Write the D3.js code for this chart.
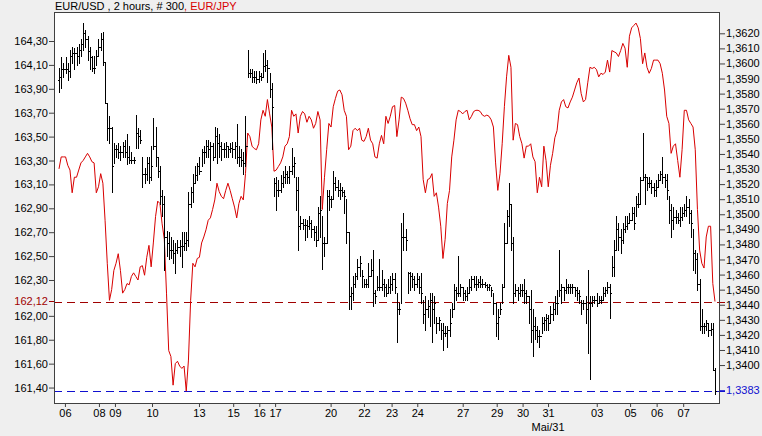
<!DOCTYPE html>
<html><head><meta charset="utf-8">
<script src="https://cdn.jsdelivr.net/npm/d3@7/dist/d3.min.js"></script>
<style>
html,body{margin:0;padding:0;background:#efefef;}
svg{display:block;font-family:"Liberation Sans",Arial,sans-serif;}
</style></head><body>
<svg id="chart" width="762" height="436"></svg>
<script>
// ---------- DATA ----------
const title = "EUR/USD , 2 hours, # 300";
const title2 = ", EUR/JPY";
// EUR/USD 2-hour bars (right axis): high, low, close (open = previous close)
const usdHigh = [1.3597,1.3604,1.3600,1.3604,1.3600,1.3609,1.3611,1.3610,1.3611,1.3613,1.3616,1.3627,1.3622,1.3618,1.3611,1.3605,1.3605,1.3609,1.3616,1.3620,
1.3621,1.3601,1.3574,1.3565,1.3558,1.3547,1.3546,1.3547,1.3545,1.3548,1.3549,1.3553,1.3545,1.3541,1.3538,1.3566,1.3557,1.3556,1.3538,1.3531,
1.3538,1.3538,1.3545,1.3564,1.3558,1.3538,1.3532,1.3516,1.3512,1.3489,1.3488,1.3485,1.3483,1.3481,1.3483,1.3483,1.3488,1.3488,1.3488,1.3515,
1.3518,1.3527,1.3532,1.3534,1.3538,1.3543,1.3545,1.3549,1.3549,1.3548,1.3547,1.3558,1.3557,1.3553,1.3548,1.3547,1.3548,1.3545,1.3547,1.3548,
1.3548,1.3560,1.3545,1.3543,1.3541,1.3565,1.3609,1.3596,1.3596,1.3595,1.3595,1.3595,1.3594,1.3607,1.3609,1.3602,1.3594,1.3587,1.3524,1.3525,
1.3523,1.3526,1.3529,1.3532,1.3529,1.3532,1.3544,1.3538,1.3525,1.3525,1.3499,1.3497,1.3497,1.3496,1.3499,1.3496,1.3492,1.3492,1.3505,1.3512,
1.3499,1.3485,1.3516,1.3516,1.3512,1.3529,1.3525,1.3523,1.3521,1.3518,1.3516,1.3510,1.3488,1.3452,1.3459,1.3461,1.3470,1.3472,1.3463,1.3457,
1.3457,1.3468,1.3470,1.3476,1.3450,1.3459,1.3470,1.3463,1.3457,1.3454,1.3457,1.3459,1.3461,1.3461,1.3448,1.3441,1.3494,1.3501,1.3490,1.3462,
1.3462,1.3461,1.3459,1.3461,1.3459,1.3461,1.3443,1.3446,1.3443,1.3448,1.3448,1.3446,1.3432,1.3432,1.3428,1.3428,1.3426,1.3426,1.3437,1.3441,
1.3454,1.3452,1.3472,1.3454,1.3452,1.3450,1.3452,1.3457,1.3459,1.3459,1.3459,1.3457,1.3459,1.3457,1.3455,1.3454,1.3454,1.3452,1.3448,1.3441,
1.3437,1.3441,1.3454,1.3494,1.3503,1.3521,1.3507,1.3485,1.3454,1.3452,1.3454,1.3454,1.3457,1.3450,1.3446,1.3450,1.3437,1.3432,1.3426,1.3423,
1.3432,1.3432,1.3434,1.3433,1.3439,1.3441,1.3446,1.3450,1.3476,1.3454,1.3452,1.3457,1.3454,1.3454,1.3454,1.3452,1.3452,1.3450,1.3443,1.3443,
1.3446,1.3463,1.3446,1.3446,1.3446,1.3448,1.3446,1.3446,1.3452,1.3452,1.3455,1.3454,1.3472,1.3483,1.3499,1.3494,1.3490,1.3494,1.3499,1.3499,
1.3501,1.3505,1.3505,1.3512,1.3514,1.3525,1.3554,1.3527,1.3525,1.3525,1.3523,1.3521,1.3523,1.3527,1.3529,1.3538,1.3527,1.3527,1.3512,1.3507,
1.3505,1.3503,1.3501,1.3505,1.3505,1.3507,1.3512,1.3510,1.3503,1.3490,1.3476,1.3474,1.3457,1.3437,1.3428,1.3430,1.3428,1.3428,1.3428,1.3398];
const usdLow = [1.3581,1.3584,1.3591,1.3594,1.3589,1.3591,1.3600,1.3596,1.3599,1.3600,1.3605,1.3609,1.3611,1.3602,1.3596,1.3595,1.3594,1.3599,1.3605,1.3609,
1.3599,1.3574,1.3549,1.3547,1.3515,1.3534,1.3538,1.3537,1.3536,1.3538,1.3538,1.3533,1.3534,1.3534,1.3534,1.3544,1.3544,1.3547,1.3518,1.3521,
1.3523,1.3521,1.3523,1.3543,1.3532,1.3525,1.3507,1.3499,1.3463,1.3472,1.3470,1.3471,1.3468,1.3461,1.3474,1.3472,1.3465,1.3476,1.3476,1.3479,
1.3505,1.3508,1.3521,1.3523,1.3527,1.3532,1.3534,1.3538,1.3538,1.3523,1.3536,1.3538,1.3534,1.3538,1.3536,1.3538,1.3538,1.3538,1.3541,1.3538,
1.3537,1.3534,1.3532,1.3532,1.3527,1.3532,1.3591,1.3591,1.3588,1.3588,1.3587,1.3588,1.3589,1.3591,1.3595,1.3588,1.3578,1.3543,1.3512,1.3503,
1.3512,1.3515,1.3518,1.3521,1.3521,1.3521,1.3527,1.3525,1.3503,1.3476,1.3490,1.3490,1.3483,1.3485,1.3490,1.3485,1.3483,1.3479,1.3483,1.3485,
1.3464,1.3472,1.3481,1.3503,1.3505,1.3510,1.3516,1.3512,1.3510,1.3512,1.3501,1.3481,1.3437,1.3437,1.3443,1.3452,1.3457,1.3459,1.3452,1.3452,
1.3452,1.3452,1.3459,1.3439,1.3441,1.3450,1.3450,1.3450,1.3446,1.3446,1.3448,1.3448,1.3450,1.3448,1.3415,1.3434,1.3441,1.3476,1.3476,1.3448,
1.3450,1.3452,1.3450,1.3452,1.3448,1.3441,1.3428,1.3423,1.3432,1.3426,1.3415,1.3428,1.3421,1.3423,1.3417,1.3410,1.3419,1.3412,1.3419,1.3432,
1.3437,1.3443,1.3446,1.3446,1.3443,1.3443,1.3443,1.3448,1.3450,1.3452,1.3450,1.3452,1.3452,1.3452,1.3452,1.3450,1.3450,1.3446,1.3434,1.3419,
1.3417,1.3434,1.3441,1.3452,1.3481,1.3492,1.3476,1.3441,1.3446,1.3443,1.3446,1.3446,1.3441,1.3441,1.3428,1.3415,1.3406,1.3417,1.3415,1.3412,
1.3421,1.3423,1.3423,1.3423,1.3428,1.3430,1.3434,1.3434,1.3446,1.3441,1.3443,1.3448,1.3448,1.3448,1.3448,1.3446,1.3443,1.3441,1.3434,1.3437,
1.3428,1.3408,1.3391,1.3439,1.3441,1.3439,1.3441,1.3441,1.3443,1.3446,1.3448,1.3431,1.3459,1.3459,1.3476,1.3476,1.3474,1.3481,1.3488,1.3490,
1.3494,1.3496,1.3490,1.3499,1.3505,1.3507,1.3523,1.3507,1.3516,1.3518,1.3514,1.3512,1.3512,1.3518,1.3523,1.3521,1.3518,1.3510,1.3494,1.3485,
1.3490,1.3494,1.3494,1.3492,1.3496,1.3499,1.3499,1.3494,1.3485,1.3463,1.3461,1.3450,1.3423,1.3421,1.3421,1.3423,1.3419,1.3420,1.3397,1.3381];
const usdClose = [1.3591,1.3596,1.3596,1.3596,1.3595,1.3605,1.3607,1.3607,1.3605,1.3609,1.3613,1.3620,1.3616,1.3608,1.3604,1.3597,1.3597,1.3605,1.3611,1.3616,
1.3601,1.3574,1.3557,1.3557,1.3532,1.3543,1.3543,1.3541,1.3541,1.3545,1.3541,1.3538,1.3536,1.3536,1.3536,1.3554,1.3552,1.3549,1.3527,1.3527,
1.3534,1.3525,1.3532,1.3545,1.3538,1.3529,1.3512,1.3507,1.3485,1.3481,1.3476,1.3476,1.3474,1.3476,1.3478,1.3479,1.3479,1.3481,1.3483,1.3507,
1.3515,1.3521,1.3526,1.3532,1.3529,1.3541,1.3541,1.3545,1.3543,1.3545,1.3538,1.3552,1.3547,1.3545,1.3543,1.3543,1.3545,1.3543,1.3544,1.3543,
1.3545,1.3538,1.3538,1.3536,1.3534,1.3545,1.3594,1.3594,1.3591,1.3591,1.3590,1.3592,1.3591,1.3598,1.3599,1.3597,1.3583,1.3571,1.3521,1.3516,
1.3516,1.3521,1.3525,1.3527,1.3525,1.3529,1.3532,1.3534,1.3516,1.3492,1.3494,1.3493,1.3493,1.3492,1.3494,1.3490,1.3488,1.3483,1.3501,1.3503,
1.3481,1.3481,1.3512,1.3510,1.3510,1.3521,1.3518,1.3516,1.3516,1.3515,1.3512,1.3488,1.3446,1.3448,1.3454,1.3459,1.3465,1.3468,1.3459,1.3454,
1.3454,1.3459,1.3463,1.3448,1.3446,1.3452,1.3452,1.3454,1.3452,1.3448,1.3452,1.3454,1.3457,1.3452,1.3437,1.3437,1.3485,1.3485,1.3483,1.3461,
1.3459,1.3457,1.3454,1.3457,1.3452,1.3448,1.3434,1.3437,1.3439,1.3443,1.3437,1.3441,1.3428,1.3430,1.3423,1.3421,1.3421,1.3423,1.3428,1.3437,
1.3450,1.3448,1.3448,1.3452,1.3448,1.3446,1.3448,1.3452,1.3457,1.3454,1.3454,1.3455,1.3454,1.3454,1.3453,1.3452,1.3453,1.3450,1.3441,1.3428,
1.3432,1.3437,1.3452,1.3481,1.3499,1.3507,1.3481,1.3448,1.3450,1.3448,1.3450,1.3450,1.3448,1.3446,1.3437,1.3423,1.3426,1.3423,1.3419,1.3419,
1.3428,1.3430,1.3431,1.3428,1.3434,1.3437,1.3441,1.3441,1.3450,1.3452,1.3450,1.3452,1.3452,1.3452,1.3452,1.3450,1.3448,1.3446,1.3441,1.3441,
1.3437,1.3441,1.3441,1.3443,1.3443,1.3441,1.3443,1.3443,1.3448,1.3450,1.3452,1.3448,1.3465,1.3476,1.3490,1.3485,1.3483,1.3490,1.3492,1.3494,
1.3496,1.3501,1.3494,1.3507,1.3507,1.3523,1.3525,1.3525,1.3521,1.3521,1.3518,1.3516,1.3518,1.3523,1.3527,1.3525,1.3523,1.3516,1.3503,1.3496,
1.3498,1.3498,1.3496,1.3498,1.3501,1.3503,1.3505,1.3501,1.3494,1.3474,1.3470,1.3454,1.3426,1.3426,1.3426,1.3428,1.3423,1.3424,1.3397,1.3383];
const usdFirstOpen = 1.3589;
// EUR/JPY line (left axis), one value per bar
const jpy = [163.23,163.33,163.33,163.33,163.26,163.22,163.03,163.16,163.16,163.22,163.28,163.30,163.33,163.36,163.33,163.29,163.28,163.03,163.08,163.19,
163.11,162.80,162.44,162.13,162.22,162.38,162.44,162.52,162.38,162.19,162.22,162.27,162.26,162.33,162.36,162.33,162.30,162.41,162.42,162.34,
162.49,162.59,162.41,162.61,162.83,162.96,162.94,162.77,162.64,162.19,161.71,161.66,161.42,161.60,161.62,161.58,161.56,161.58,161.37,161.63,
162.13,162.44,162.41,162.48,162.49,162.61,162.66,162.72,162.80,162.82,162.89,162.97,163.11,163.04,163.00,162.98,163.05,163.11,163.05,162.98,
162.91,162.82,162.94,163.00,162.97,163.19,163.53,163.50,163.42,163.40,163.39,163.44,163.64,163.72,163.67,163.81,163.69,163.58,163.21,163.22,
163.25,163.28,163.33,163.42,163.44,163.50,163.72,163.67,163.69,163.53,163.67,163.71,163.69,163.62,163.67,163.64,163.57,163.61,163.71,163.64,
162.89,163.16,163.39,163.61,163.58,163.75,163.82,163.88,163.89,163.85,163.72,163.67,163.39,163.42,163.55,163.57,163.55,163.57,163.47,163.46,
163.50,163.57,163.47,163.44,163.33,163.32,163.44,163.51,163.44,163.67,163.61,163.67,163.75,163.76,163.50,163.64,163.83,163.82,163.78,163.72,
163.65,163.60,163.60,163.55,163.58,163.50,163.14,163.03,163.14,163.15,163.19,163.00,163.03,162.91,162.75,162.48,162.64,162.94,163.05,163.33,
163.47,163.64,163.72,163.71,163.69,163.71,163.72,163.64,163.67,163.71,163.72,163.72,163.71,163.68,163.67,163.68,163.67,163.64,163.58,163.28,
163.05,163.19,163.44,163.75,164.00,164.18,164.08,163.47,163.61,163.60,163.50,163.44,163.32,163.42,163.42,163.44,163.33,163.29,163.03,163.16,
163.08,163.42,163.30,163.08,163.26,163.36,163.49,163.55,163.72,163.79,163.81,163.75,163.74,163.79,163.83,163.89,163.95,163.99,163.86,163.79,
163.81,163.95,164.08,164.07,164.08,164.06,164.00,164.03,164.02,164.04,164.14,164.04,164.22,164.21,164.20,164.17,164.22,164.28,164.24,164.08,
164.34,164.41,164.43,164.45,164.41,164.32,164.11,164.20,164.08,164.03,164.07,164.14,164.14,164.14,164.11,164.03,163.89,163.67,163.61,163.36,
163.42,163.44,163.30,163.16,163.39,163.72,163.72,163.64,163.61,163.58,163.39,162.89,162.55,162.44,162.40,162.66,162.75,162.75,162.27,162.12];
// axis ticks
const leftTicks = [164.30,164.10,163.90,163.70,163.50,163.30,163.10,162.90,162.70,162.50,162.30,162.00,161.80,161.60,161.40];
const rightTicks = [1.3620,1.3610,1.3600,1.3590,1.3580,1.3570,1.3560,1.3550,1.3540,1.3530,1.3520,1.3510,1.3500,1.3490,1.3480,1.3470,1.3460,1.3450,1.3440,1.3430,1.3420,1.3410,1.3400];
const jpyLevel = 162.12;
const usdLevel = 1.3383;
const dayLabels = ["06","08","09","10","13","15","16","17","20","22","23","24","27","29","30","31","03","05","06","07"];
const dayIndex = [2.7,18.2,25.5,42.4,63.8,79.4,91.3,98.5,123.8,139.0,151.6,163.3,184.0,199.5,211.3,222.9,245.1,260.3,272.4,284.5];
const monthLabel = "Mai/31";
const monthLabelIndex = 222.9;

// ---------- CHART ----------
const RED = "#d80000", DRED = "#a00000", BLUE = "#1010d0";
const svg = d3.select("#chart");
const L = 54, R = 720, T = 12, B = 403;
const N = usdClose.length;
const x = d3.scaleLinear().domain([-2.28, N + 1.28]).range([L, R]);
const yL = d3.scaleLinear().domain([161.2707, 164.5427]).range([B, T]);
const yR = d3.scaleLinear().domain([1.337484, 1.3634125]).range([B, T]);
const comma = s => s.replace(".", ",");

svg.append("rect").attr("x", L).attr("y", T).attr("width", R - L).attr("height", B - T)
  .attr("fill", "#fff");

// title
const tt = svg.append("text").attr("x", 55).attr("y", 10).attr("font-size", 11).attr("fill", "#000");
tt.append("tspan").text(title);
tt.append("tspan").attr("fill", RED).text(title2);

const plot = svg.append("g");

// level lines
plot.append("line").attr("x1", L).attr("x2", R + 5)
  .attr("y1", Math.round(yL(jpyLevel)) + 0.5).attr("y2", Math.round(yL(jpyLevel)) + 0.5)
  .attr("stroke", DRED).attr("stroke-dasharray", "8,5");
plot.append("line").attr("x1", L).attr("x2", R + 5)
  .attr("y1", Math.round(yR(usdLevel)) + 0.5).attr("y2", Math.round(yR(usdLevel)) + 0.5)
  .attr("stroke", BLUE).attr("stroke-dasharray", "8,5");

// EUR/JPY line
const line = d3.line().x((d, i) => x(i)).y(d => yL(d));
plot.append("path").datum(jpy).attr("d", line).attr("fill", "none")
  .attr("stroke", RED).attr("stroke-width", 1);

// OHLC bars
const bars = d3.range(N).map(i => ({
  i, h: usdHigh[i], l: usdLow[i], c: usdClose[i], o: i === 0 ? usdFirstOpen : usdClose[i - 1]
}));
const bg = plot.append("g").attr("shape-rendering", "crispEdges").attr("fill", "#000");
bars.forEach(b => {
  const cx = Math.round(x(b.i));
  const yh = Math.round(yR(b.h)), yl = Math.round(yR(b.l));
  bg.append("rect").attr("x", cx).attr("y", yh).attr("width", 1).attr("height", Math.max(1, yl - yh + 1));
  bg.append("rect").attr("x", cx - 1).attr("y", Math.round(yR(b.o))).attr("width", 1).attr("height", 1);
  bg.append("rect").attr("x", cx + 1).attr("y", Math.round(yR(b.c))).attr("width", 1).attr("height", 1);
});

// frame
svg.append("rect").attr("x", L + 0.5).attr("y", T + 0.5).attr("width", R - L - 1).attr("height", B - T)
  .attr("fill", "none").attr("stroke", "#404040");

// left axis
const gl = svg.append("g").attr("transform", `translate(${L},0)`)
  .call(d3.axisLeft(yL).tickValues(leftTicks).tickSize(5).tickPadding(1).tickFormat(d => comma(d3.format(".2f")(d))));
gl.select(".domain").remove();
gl.selectAll(".tick line").attr("stroke", "#404040");
gl.selectAll(".tick text").attr("fill", "#000");
const lvlL = gl.append("g").attr("transform", `translate(0,${yL(jpyLevel)})`);
lvlL.append("line").attr("x2", -5).attr("stroke", DRED);
lvlL.append("text").attr("x", -6).attr("dy", "0.32em").attr("text-anchor", "end")
  .attr("fill", DRED).text(comma(d3.format(".2f")(jpyLevel)));

// right axis
const gr = svg.append("g").attr("transform", `translate(${R},0)`)
  .call(d3.axisRight(yR).tickValues(rightTicks).tickSize(5).tickPadding(1).tickFormat(d => comma(d3.format(".4f")(d))));
gr.select(".domain").remove();
gr.selectAll(".tick line").attr("stroke", "#404040");
gr.selectAll(".tick text").attr("fill", "#000");
const lvlR = gr.append("g").attr("transform", `translate(0,${yR(usdLevel)})`);
lvlR.append("line").attr("x2", 5).attr("stroke", BLUE);
lvlR.append("text").attr("x", 6).attr("dy", "0.32em").attr("fill", BLUE)
  .text(comma(d3.format(".4f")(usdLevel)));

// bottom axis
const gb = svg.append("g").attr("transform", `translate(0,${B})`)
  .call(d3.axisBottom(x).tickValues(dayIndex).tickSize(4).tickPadding(2).tickFormat((d, i) => dayLabels[i]));
gb.select(".domain").remove();
gb.selectAll(".tick line").attr("stroke", "#404040");
gb.selectAll(".tick text").attr("fill", "#000");
svg.append("text").attr("x", x(monthLabelIndex)).attr("y", 431).attr("text-anchor", "middle")
  .attr("font-size", 11).attr("fill", "#000").text(monthLabel);

svg.selectAll("g text").attr("font-size", 11).attr("font-family", "'Liberation Sans',Arial,sans-serif");
</script>
</body></html>
